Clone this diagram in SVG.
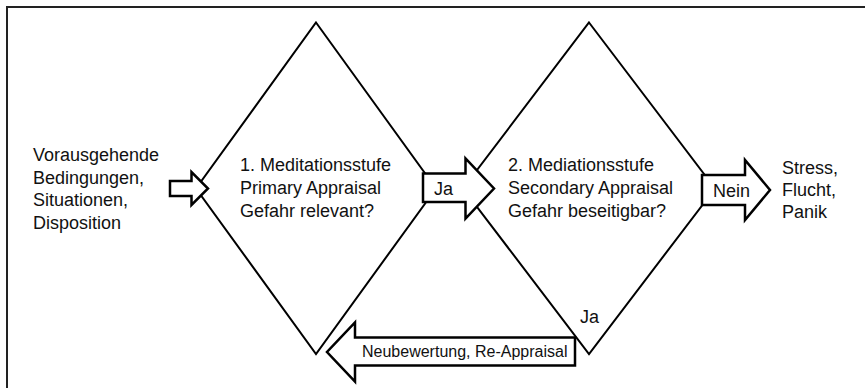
<svg xmlns="http://www.w3.org/2000/svg" width="865" height="388" viewBox="0 0 865 388">
<style>
.t{font-family:"Liberation Sans",Arial,Helvetica,sans-serif;font-size:18px;fill:#111}
.s{font-size:16px}
.d{fill:none;stroke:#000;stroke-width:2}
.a{fill:#fff;stroke:#000;stroke-width:2.5;stroke-linejoin:miter}
.f{fill:none;stroke:#222;stroke-width:2}
</style>
<rect width="865" height="388" fill="#fff"/>
<path class="f" d="M7,388 V7 H865"/>
<g id="diamond1">
<polygon class="d" points="316,22.5 436,188.5 316,354 196,188.5"/>
<text class="t" x="240" y="171">1. Meditationsstufe</text>
<text class="t" x="240" y="194">Primary Appraisal</text>
<text class="t" x="240" y="217">Gefahr relevant?</text>
</g>
<g id="diamond2">
<polygon class="d" points="589,22.5 715,188.5 589,354 463,188.5"/>
<text class="t" x="508" y="171">2. Mediationsstufe</text>
<text class="t" x="508" y="194">Secondary Appraisal</text>
<text class="t" x="508" y="217">Gefahr beseitigbar?</text>
</g>
<g id="input">
<text class="t" x="33" y="161">Vorausgehende</text>
<text class="t" x="33" y="183.5">Bedingungen,</text>
<text class="t" x="33" y="206">Situationen,</text>
<text class="t" x="33" y="228.5">Disposition</text>
</g>
<g id="output">
<text class="t" x="782" y="173.5">Stress,</text>
<text class="t" x="782" y="196">Flucht,</text>
<text class="t" x="782" y="218">Panik</text>
</g>
<g id="connectors">
<polygon class="a" points="170,181 191.5,181 191.5,172 208,188.5 191.5,205 191.5,196 170,196"/>
<polygon class="a" points="423,173.5 465.5,173.5 465.5,158.5 494,188.5 465.5,218.5 465.5,202 423,202"/>
<text class="t" x="434" y="195">Ja</text>
<polygon class="a" points="702,175 745,175 745,160 770,190 745,220 745,205 702,205"/>
<text class="t" x="713" y="197">Nein</text>
<polygon class="a" points="575,337.5 355,337.5 355,322.5 327,352 355,381.5 355,365.5 575,365.5"/>
<text class="t s" x="362" y="357">Neubewertung, Re-Appraisal</text>
<text class="t" x="580" y="323">Ja</text>
</g>
</svg>
